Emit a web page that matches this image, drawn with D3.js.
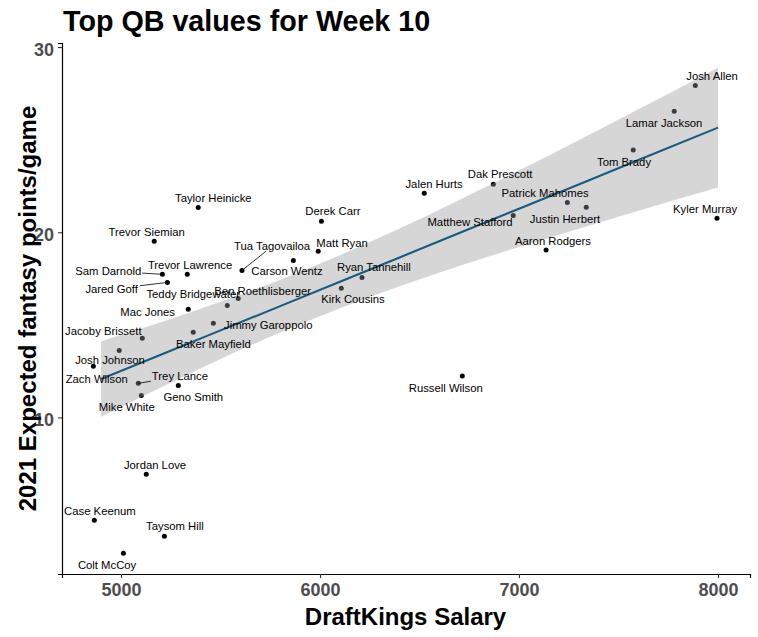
<!DOCTYPE html>
<html>
<head>
<meta charset="utf-8">
<script src="https://cdn.jsdelivr.net/npm/d3@7"></script>
<style>
  html, body { margin: 0; padding: 0; background: #fff; }
  svg { display: block; }
  text { font-family: "Liberation Sans", Arial, sans-serif; }
</style>
</head>
<body>
<svg id="chart" width="758" height="637"></svg>
<script>
// ---------------- data ----------------
const players = ["Josh Allen","Lamar Jackson","Tom Brady","Patrick Mahomes","Justin Herbert","Kyler Murray",
  "Dak Prescott","Jalen Hurts","Matthew Stafford","Aaron Rodgers","Derek Carr","Matt Ryan","Carson Wentz",
  "Tua Tagovailoa","Ryan Tannehill","Kirk Cousins","Taylor Heinicke","Trevor Siemian","Sam Darnold",
  "Trevor Lawrence","Jared Goff","Ben Roethlisberger","Teddy Bridgewater","Mac Jones","Jimmy Garoppolo",
  "Baker Mayfield","Jacoby Brissett","Josh Johnson","Zach Wilson","Trey Lance","Geno Smith","Mike White",
  "Russell Wilson","Jordan Love","Case Keenum","Taysom Hill","Colt McCoy"];
const salary = [7886,7780,7574,7243,7338,7995,6871,6524,6971,7136,6007,5991,5866,5608,6211,6107,5388,5167,5208,
  5333,5233,5589,5534,5338,5464,5363,5107,4991,4861,5087,5288,5102,6715,5127,4866,5218,5012];
const xfp = [27.93,26.53,24.44,21.61,21.35,20.75,22.59,22.10,20.91,19.04,20.59,18.97,18.48,17.94,17.56,16.97,21.34,
  19.51,17.73,17.73,17.29,16.42,16.05,15.84,15.08,14.60,14.27,13.62,12.76,11.84,11.73,11.19,12.24,6.93,4.44,3.58,2.66];
// repelled label anchors, in data units
const labelSalary = [7970,7729,7528,7131,7231,7935,6905,6573,6754,7171,6065,6111,5834,5759,6271,6166,5464,5129,4936,
  5347,4953,5712,5363,5134,5740,5464,4911,4945,4878,5296,5363,5029,6632,5171,4894,5271,4930];
const labelXfp = [28.43,25.90,23.79,22.12,20.71,21.25,23.14,22.63,20.55,19.52,21.14,19.42,17.90,19.25,18.12,16.39,21.83,
  19.99,17.90,18.21,16.93,16.84,16.65,15.69,14.97,13.96,14.65,13.08,12.06,12.22,11.09,10.56,11.57,7.43,4.95,4.12,2.01];
const segmentPlayers = ["Sam Darnold","Jared Goff","Tua Tagovailoa","Trey Lance"];

// linear smooth with confidence band
const smoothSalary = [4900,5200,5500,5800,6100,6400,6700,7000,7300,7600,8000];
const smoothFit    = [12.07,13.38,14.70,16.01,17.33,18.64,19.96,21.27,22.58,23.90,25.65];
const smoothLower  = [10.04,11.62,13.16,14.58,15.90,17.08,18.18,19.21,20.19,21.16,22.42];
const smoothUpper  = [14.11,15.14,16.24,17.44,18.76,20.20,21.74,23.33,24.97,26.64,28.89];

const xTicks = [5000,6000,7000,8000];
const yTicks = [10,20,30];
const titleText = "Top QB values for Week 10";
const xTitle = "DraftKings Salary";
const yTitle = "2021 Expected fantasy points/game";

// ---------------- drawing ----------------
const svg = d3.select("#chart");
const panel = {left: 62, right: 750, top: 43, bottom: 574};

const x = d3.scaleLinear().domain([4703.5, 8160.8]).range([panel.left, panel.right]);
const y = d3.scaleLinear().domain([1.544, 30.22]).range([panel.bottom, panel.top]);

const pts = players.map((p, i) => ({name: p, s: salary[i], v: xfp[i], ls: labelSalary[i], lv: labelXfp[i]}));
const sm = smoothSalary.map((s, i) => ({s, f: smoothFit[i], lo: smoothLower[i], hi: smoothUpper[i]}));

// points
svg.append("g").selectAll("circle").data(pts).join("circle")
  .attr("cx", d => x(d.s)).attr("cy", d => y(d.v)).attr("r", 2.5).attr("fill", "#000");

// confidence ribbon (drawn over points, like ggplot)
svg.append("path").datum(sm)
  .attr("d", d3.area().x(d => x(d.s)).y0(d => y(d.lo)).y1(d => y(d.hi)).curve(d3.curveMonotoneX))
  .attr("fill", "#999999").attr("fill-opacity", 0.4);

svg.append("path").datum(sm)
  .attr("d", d3.line().x(d => x(d.s)).y(d => y(d.f)))
  .attr("fill", "none").attr("stroke", "#1b5a80").attr("stroke-width", 2.1);

// axes
const gx = svg.append("g").attr("transform", `translate(0,${panel.bottom})`)
  .call(d3.axisBottom(x).tickValues(xTicks).tickFormat(d3.format("d")).tickSizeOuter(0).tickSize(4).tickPadding(5));
const gy = svg.append("g").attr("transform", `translate(${panel.left},0)`)
  .call(d3.axisLeft(y).tickValues(yTicks).tickFormat(d3.format("d")).tickSizeOuter(0).tickSize(4).tickPadding(4));
[gx, gy].forEach(g => {
  g.select(".domain").attr("stroke", "#000").attr("stroke-width", 1.2);
  g.selectAll(".tick line").attr("stroke", "#333").attr("stroke-width", 1.1);
  g.selectAll(".tick text").attr("fill", "#4d4d4d").attr("font-size", 18).attr("font-weight", "bold")
    .attr("font-family", "'Liberation Sans', Arial, sans-serif");
});
gy.selectAll(".tick text").attr("dy", "0.47em");
gx.selectAll(".tick text").attr("dy", "0.72em");

// labels
const labelG = svg.append("g");
const labels = labelG.selectAll("text").data(pts).join("text")
  .attr("x", d => x(d.ls)).attr("y", d => y(d.lv))
  .attr("text-anchor", "middle").attr("dominant-baseline", "central")
  .attr("font-size", 11.3).attr("fill", "#000").text(d => d.name);

// connector segments for labels pushed away from their points
labels.each(function(d) {
  if (!segmentPlayers.includes(d.name)) return;
  const b = this.getBBox();
  const cx = b.x + b.width / 2, cy = b.y + b.height / 2;
  const px = x(d.s), py = y(d.v);
  const dx = px - cx, dy = py - cy;
  const tx = dx !== 0 ? (b.width / 2 + 1) / Math.abs(dx) : Infinity;
  const ty = dy !== 0 ? (b.height / 2 - 1) / Math.abs(dy) : Infinity;
  const t = Math.min(tx, ty);
  svg.append("line")
    .attr("x1", cx + dx * t).attr("y1", cy + dy * t)
    .attr("x2", px).attr("y2", py)
    .attr("stroke", "#000").attr("stroke-width", 0.8);
});

// titles
svg.append("text").attr("x", 63).attr("y", 30.5)
  .attr("font-size", 28.7).attr("font-weight", "bold").attr("fill", "#000").text(titleText);
svg.append("text").attr("x", (panel.left + panel.right) / 2 - 0.5).attr("y", 625)
  .attr("text-anchor", "middle").attr("font-size", 24).attr("font-weight", "bold").attr("fill", "#000").text(xTitle);
svg.append("text").attr("transform", `translate(35.6,${(panel.top + panel.bottom) / 2}) rotate(-90)`)
  .attr("text-anchor", "middle").attr("font-size", 24).attr("font-weight", "bold").attr("fill", "#000").text(yTitle);
</script>
</body>
</html>
